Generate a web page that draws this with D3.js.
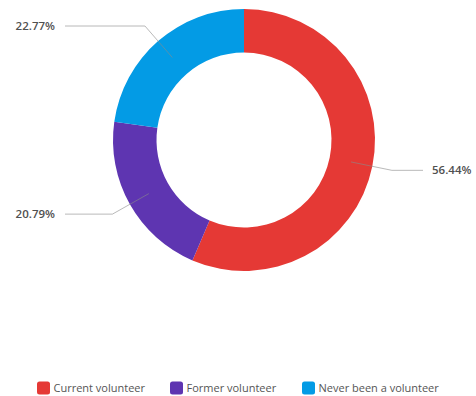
<!DOCTYPE html>
<html>
<head>
<meta charset="utf-8">
<script src="https://cdn.jsdelivr.net/npm/d3@7"></script>
<style>
  html, body { margin: 0; padding: 0; background: #fff; }
  svg { display: block; }
  text { font-family: "Open Sans", "Noto Sans", sans-serif; }
</style>
</head>
<body>
<svg id="chart" width="476" height="396"></svg>
<script>
// Volunteer status shares (percent)
const categories = ["Current volunteer", "Former volunteer", "Never been a volunteer"];
const values = [56.44, 20.79, 22.77];
const colors = ["#e53935", "#5e35b1", "#039be5"];

const svg = d3.select("#chart");
const cx = 244, cy = 140;
const outerR = 131, innerR = 87.5;
const midR = (outerR + innerR) / 2;
const elbowR = 151;

const data = categories.map((c, i) => ({ name: c, value: values[i], color: colors[i] }));

const pie = d3.pie().value(d => d.value).sort(null);
const arcs = pie(data);

const arc = d3.arc().innerRadius(innerR).outerRadius(outerR);

const g = svg.append("g").attr("transform", `translate(${cx},${cy})`);

g.selectAll("path.slice")
  .data(arcs)
  .join("path")
  .attr("class", "slice")
  .attr("d", arc)
  .attr("fill", d => d.data.color);

// Leader lines and value labels
const pt = (a, r) => [r * Math.sin(a), -r * Math.cos(a)];
const leftTextX = 55 - cx, rightTextX = 432 - cx;

arcs.forEach(d => {
  const a = (d.startAngle + d.endAngle) / 2;
  const p0 = pt(a, midR);
  const p1 = pt(a, elbowR);
  const right = Math.sin(a) > 0;
  const p2 = [right ? rightTextX - 9 : leftTextX + 10, p1[1]];
  g.append("polyline")
    .attr("points", [p0, p1, p2].map(p => p.join(",")).join(" "))
    .attr("fill", "none")
    .attr("stroke", "#8a8a8a")
    .attr("stroke-opacity", 0.6)
    .attr("stroke-width", 1);
  g.append("text")
    .attr("x", right ? rightTextX : leftTextX)
    .attr("y", p1[1])
    .attr("dy", "0.35em")
    .attr("text-anchor", right ? "start" : "end")
    .attr("font-size", 11.5)
    .attr("font-weight", 600)
    .attr("fill", "#505050")
    .text(d3.format(".2f")(d.data.value) + "%");
});

// Legend
const legendItems = [37, 170, 302];
const lg = svg.append("g").attr("transform", "translate(0,388)");
data.forEach((d, i) => {
  const item = lg.append("g").attr("transform", `translate(${legendItems[i]},0)`);
  item.append("rect")
    .attr("x", 0).attr("y", -6.5)
    .attr("width", 13).attr("height", 13)
    .attr("rx", 2.5)
    .attr("fill", d.color);
  item.append("text")
    .attr("x", 16.5).attr("y", 0)
    .attr("dy", "0.35em")
    .attr("font-size", 11)
    .attr("fill", "#555")
    .text(d.name);
});
</script>
</body>
</html>
